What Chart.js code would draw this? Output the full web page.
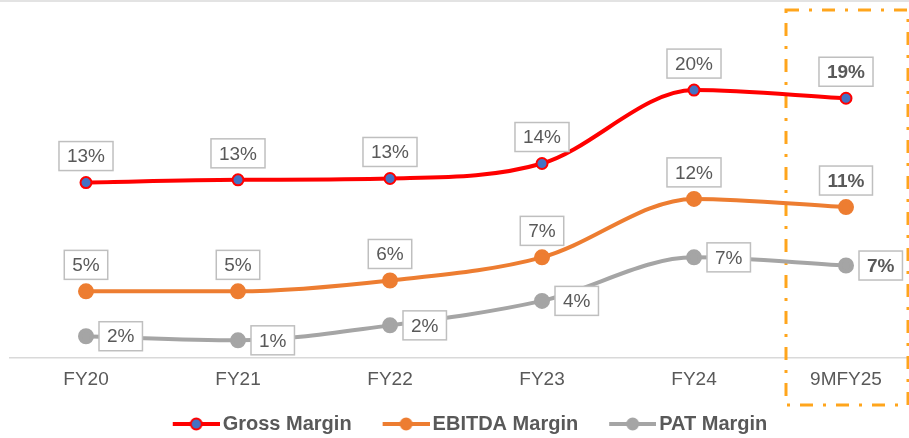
<!DOCTYPE html>
<html>
<head>
<meta charset="utf-8">
<script src="https://cdn.jsdelivr.net/npm/chart.js@4.4.1/dist/chart.umd.min.js"></script>
<style>
    body { margin: 0; background: #fff; overflow: hidden; }
    #wrap { width: 909px; height: 438px; overflow: hidden; position: relative; }
</style>
</head>
<body>
<div id="wrap">
    <canvas id="margins" width="934" height="444"></canvas>
</div>
<script>
// Margins by year (%)
var years = ["FY20", "FY21", "FY22", "FY23", "FY24", "9MFY25"];
var grossMargin = [12.9, 13.1, 13.2, 14.3, 19.7, 19.1];
var ebitdaMargin = [4.9, 4.9, 5.7, 7.4, 11.7, 11.1];
var patMargin = [1.6, 1.3, 2.4, 4.2, 7.4, 6.8];

var FONT = "'Liberation Sans', Arial, sans-serif";
var TEXT = "#595959";

// legend icon: line with a dot, drawn on a small canvas
function legendIcon(line, fill, stroke) {
    var c = document.createElement("canvas");
    c.width = 64;
    c.height = 14;
    var g = c.getContext("2d");
    g.strokeStyle = line;
    g.lineWidth = 4;
    g.beginPath();
    g.moveTo(17, 7);
    g.lineTo(64, 7);
    g.stroke();
    g.beginPath();
    g.arc(40.5, 7, 5.5, 0, Math.PI * 2);
    g.fillStyle = fill;
    g.fill();
    g.lineWidth = 2;
    g.strokeStyle = stroke;
    g.stroke();
    return c;
}
var icons = [
    legendIcon("#FF0000", "#4472C4", "#FF0000"),
    legendIcon("#ED7D31", "#ED7D31", "#ED7D31"),
    legendIcon("#A5A5A5", "#A5A5A5", "#A5A5A5")
];

// value labels in boxes + highlight box round the last year
var extras = {
    id: "extras",
    beforeDatasetsDraw: function (chart) {
        var ctx = chart.ctx;
        var x = chart.scales.x;
        ctx.save();
        ctx.fillStyle = "#E3E3E3";
        ctx.fillRect(0, 0, chart.width, 2);
        var cx = x.getPixelForValue(years.length - 1);
        ctx.strokeStyle = "#FFA51C";
        ctx.lineWidth = 3;
        ctx.setLineDash([13, 10, 3, 10]);
        ctx.strokeRect(cx - 60, 10, 122, 395);
        ctx.restore();
    },
    afterDatasetsDraw: function (chart) {
        var ctx = chart.ctx;
        ctx.save();
        ctx.textAlign = "center";
        ctx.textBaseline = "middle";
        chart.data.datasets.forEach(function (ds, di) {
            var meta = chart.getDatasetMeta(di);
            meta.data.forEach(function (pt, i) {
                var last = i === years.length - 1;
                var txt = Math.round(ds.data[i]) + "%";
                ctx.font = (last ? "bold " : "") + "19px " + FONT;
                var w = ctx.measureText(txt).width + 16;
                var h = 29;
                var bx, by;
                if (di === 2) {
                    bx = pt.x + 13 + w / 2;
                    by = pt.y;
                } else {
                    bx = pt.x;
                    by = pt.y - 26.5;
                }
                ctx.fillStyle = "#FFFFFF";
                ctx.fillRect(bx - w / 2, by - h / 2, w, h);
                ctx.strokeStyle = "#BFBFBF";
                ctx.lineWidth = 1.5;
                ctx.strokeRect(bx - w / 2, by - h / 2, w, h);
                ctx.fillStyle = TEXT;
                ctx.fillText(txt, bx, by + 1);
            });
        });
        ctx.restore();
    }
};

new Chart("margins", {
    type: "line",
    data: {
        labels: years,
        datasets: [{
            label: "Gross Margin",
            data: grossMargin,
            borderColor: "#FF0000",
            borderWidth: 4,
            pointBackgroundColor: "#4472C4",
            pointBorderColor: "#FF0000",
            pointBorderWidth: 2,
            pointRadius: 5.5
        }, {
            label: "EBITDA Margin",
            data: ebitdaMargin,
            borderColor: "#ED7D31",
            borderWidth: 4,
            pointBackgroundColor: "#ED7D31",
            pointBorderColor: "#ED7D31",
            pointRadius: 6
        }, {
            label: "PAT Margin",
            data: patMargin,
            borderColor: "#A5A5A5",
            borderWidth: 4,
            pointBackgroundColor: "#A5A5A5",
            pointBorderColor: "#A5A5A5",
            pointRadius: 6
        }]
    },
    options: {
        responsive: false,
        animation: false,
        cubicInterpolationMode: "monotone",
        layout: {
            padding: { top: 18, left: 8, right: 12 }
        },
        scales: {
            x: {
                offset: true,
                grid: { display: false },
                border: { color: "#D9D9D9", width: 1.5 },
                ticks: {
                    color: TEXT,
                    padding: 4,
                    font: { family: FONT, size: 19, lineHeight: 1 }
                },
                afterFit: function (scale) {
                    scale.height = 35;
                    scale.paddingLeft = 0;
                    scale.paddingRight = 0;
                }
            },
            y: {
                display: false,
                min: 0,
                max: 25
            }
        },
        plugins: {
            tooltip: { enabled: false },
            legend: {
                position: "bottom",
                labels: {
                    usePointStyle: true,
                    pointStyleWidth: 50,
                    boxHeight: 14,
                    padding: 21,
                    color: TEXT,
                    font: { family: FONT, size: 20, weight: "bold" },
                    generateLabels: function (chart) {
                        var items = Chart.defaults.plugins.legend.labels.generateLabels(chart);
                        items.forEach(function (it, i) {
                            it.pointStyle = icons[i];
                        });
                        return items;
                    }
                }
            }
        }
    },
    plugins: [extras]
});
</script>
</body>
</html>
